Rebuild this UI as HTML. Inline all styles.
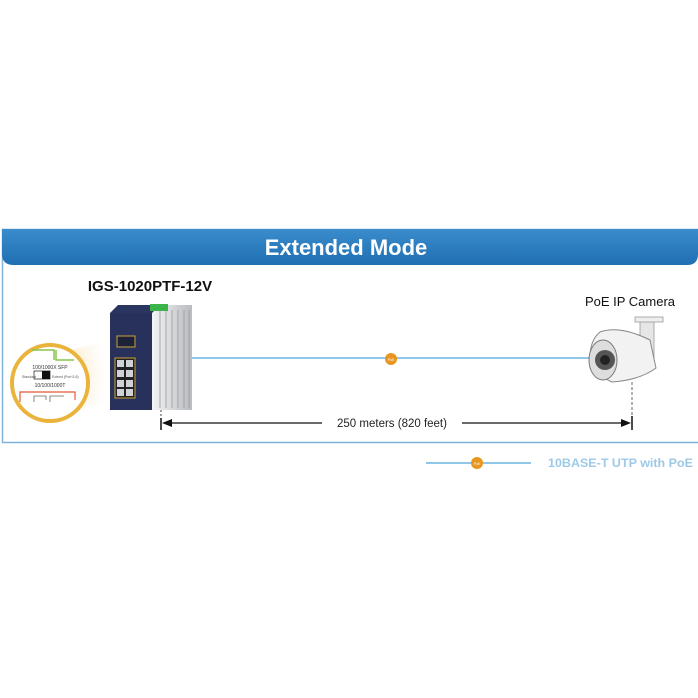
<!DOCTYPE html>
<html><head><meta charset="utf-8"><style>
html,body{margin:0;padding:0;background:#fff;}
body{width:698px;height:698px;position:relative;overflow:hidden;font-family:"Liberation Sans",sans-serif;}
</style></head><body>
<svg width="698" height="698" viewBox="0 0 698 698" xmlns="http://www.w3.org/2000/svg" style="position:absolute;left:0;top:0">
<defs>
<linearGradient id="hd" x1="0" y1="0" x2="0" y2="1">
<stop offset="0" stop-color="#3a8ccc"/><stop offset="1" stop-color="#1f6fb2"/>
</linearGradient>
<linearGradient id="side" x1="0" y1="0" x2="1" y2="0">
<stop offset="0" stop-color="#f4f4f4"/><stop offset="1" stop-color="#b8bcc0"/>
</linearGradient>
<radialGradient id="beam" cx="0" cy="0.5" r="1">
<stop offset="0" stop-color="#f9d79a" stop-opacity="0.8"/><stop offset="1" stop-color="#fff" stop-opacity="0"/>
</radialGradient>
</defs>
<rect x="2.5" y="229.5" width="700" height="213" fill="#fff" stroke="#7fb3da" stroke-width="1.5"/>
<path d="M2 229 H698 V254 Q698 265 687 265 H14 Q2 265 2 254 Z" fill="url(#hd)"/>
<text x="346" y="255" text-anchor="middle" font-size="22" font-weight="bold" fill="#fff" font-family="Liberation Sans, sans-serif">Extended Mode</text>
<text x="150" y="291" text-anchor="middle" font-size="15" font-weight="bold" fill="#111" font-family="Liberation Sans, sans-serif">IGS-1020PTF-12V</text>
<text x="630" y="306" text-anchor="middle" font-size="13" fill="#111" font-family="Liberation Sans, sans-serif">PoE IP Camera</text>
<polygon points="70,350 112,340 112,400 70,412" fill="url(#beam)"/>
<circle cx="50" cy="383" r="38" fill="#fff" stroke="#eab33c" stroke-width="4"/>
<path d="M32 350 h22 v10 M56 350 v10 h18" stroke="#8bc34a" fill="none" stroke-width="1.5"/>
<text x="50" y="369" text-anchor="middle" font-size="5" fill="#333">100/1000X SFP</text>
<rect x="34" y="371" width="16" height="8" fill="#fff" stroke="#333" stroke-width="0.8"/>
<rect x="42" y="371" width="8" height="8" fill="#111"/>
<text x="22" y="378" font-size="3.5" fill="#555">Standard</text>
<text x="52" y="378" font-size="3.5" fill="#555">Extend (Port 5-8)</text>
<text x="50" y="387" text-anchor="middle" font-size="5" fill="#333">10/100/1000T</text>
<path d="M20 402 v-10 h55 v8" stroke="#e35a3a" fill="none" stroke-width="1.2"/>
<path d="M34 402 v-6 h12 v4 M50 402 v-6 h14" stroke="#666" fill="none" stroke-width="0.8"/>
<polygon points="152,312 160,305 192,305 192,410 152,410" fill="url(#side)"/>
<g stroke="#999" stroke-width="0.8">
<line x1="160" y1="310" x2="160" y2="408"/><line x1="166" y1="310" x2="166" y2="408"/><line x1="172" y1="310" x2="172" y2="408"/><line x1="178" y1="310" x2="178" y2="408"/><line x1="184" y1="310" x2="184" y2="408"/><line x1="189" y1="310" x2="189" y2="408"/>
</g>
<polygon points="110,313 118,305 160,305 152,313" fill="#2a3560"/>
<rect x="110" y="313" width="42" height="97" fill="#27315c"/>
<rect x="150" y="304" width="18" height="7" fill="#3cb44a"/>
<rect x="117" y="336" width="18" height="11" fill="#1d2238" stroke="#c9a23a" stroke-width="1"/>
<rect x="115" y="358" width="20" height="40" fill="#222" stroke="#c9a23a" stroke-width="1"/>
<g fill="#cfd3d8"><rect x="117" y="360" width="7" height="7"/><rect x="126" y="360" width="7" height="7"/><rect x="117" y="370" width="7" height="7"/><rect x="126" y="370" width="7" height="7"/><rect x="117" y="380" width="7" height="7"/><rect x="126" y="380" width="7" height="7"/><rect x="117" y="389" width="7" height="7"/><rect x="126" y="389" width="7" height="7"/></g>
<line x1="192" y1="358" x2="595" y2="358" stroke="#6cb3df" stroke-width="1.5"/>
<circle cx="391" cy="359" r="6" fill="#e8961e"/>
<text x="391" y="361" text-anchor="middle" font-size="3.5" fill="#fff">PoE</text>
<rect x="640" y="320" width="14" height="40" fill="#e6e6e6" stroke="#999" stroke-width="0.8"/>
<rect x="635" y="317" width="28" height="5" fill="#eee" stroke="#999" stroke-width="0.8"/>
<path d="M600 332 Q620 325 650 340 L656 368 Q640 380 612 382 Q595 375 590 358 Q590 340 600 332 Z" fill="#f2f2f2" stroke="#888" stroke-width="1"/>
<ellipse cx="603" cy="360" rx="14" ry="20" fill="#ddd" stroke="#777" stroke-width="1"/>
<circle cx="605" cy="360" r="10" fill="#555"/>
<circle cx="605" cy="360" r="5" fill="#222"/>
<line x1="161" y1="410" x2="161" y2="430" stroke="#444" stroke-dasharray="2,2"/>
<line x1="632" y1="382" x2="632" y2="430" stroke="#666" stroke-dasharray="3,2"/>
<line x1="161" y1="418" x2="161" y2="430" stroke="#111" stroke-width="1.5"/>
<line x1="632" y1="416" x2="632" y2="430" stroke="#111" stroke-width="1.5"/>
<line x1="164" y1="423" x2="322" y2="423" stroke="#111" stroke-width="1.2"/>
<line x1="462" y1="423" x2="628" y2="423" stroke="#111" stroke-width="1.2"/>
<polygon points="162,423 172,419 172,427" fill="#111"/>
<polygon points="631,423 621,419 621,427" fill="#111"/>
<text x="392" y="427" text-anchor="middle" font-size="11.5" fill="#222" font-family="Liberation Sans, sans-serif">250 meters (820 feet)</text>
<line x1="426" y1="463" x2="531" y2="463" stroke="#6cb3df" stroke-width="1.5"/>
<circle cx="477" cy="463" r="6" fill="#e8961e"/>
<text x="477" y="465" text-anchor="middle" font-size="3.5" fill="#fff">PoE</text>
<text x="548" y="467" font-size="11.5" font-weight="bold" fill="#9dc9e8" font-family="Liberation Sans, sans-serif" textLength="145" lengthAdjust="spacingAndGlyphs">10BASE-T UTP with PoE</text>
</svg>
</body></html>
